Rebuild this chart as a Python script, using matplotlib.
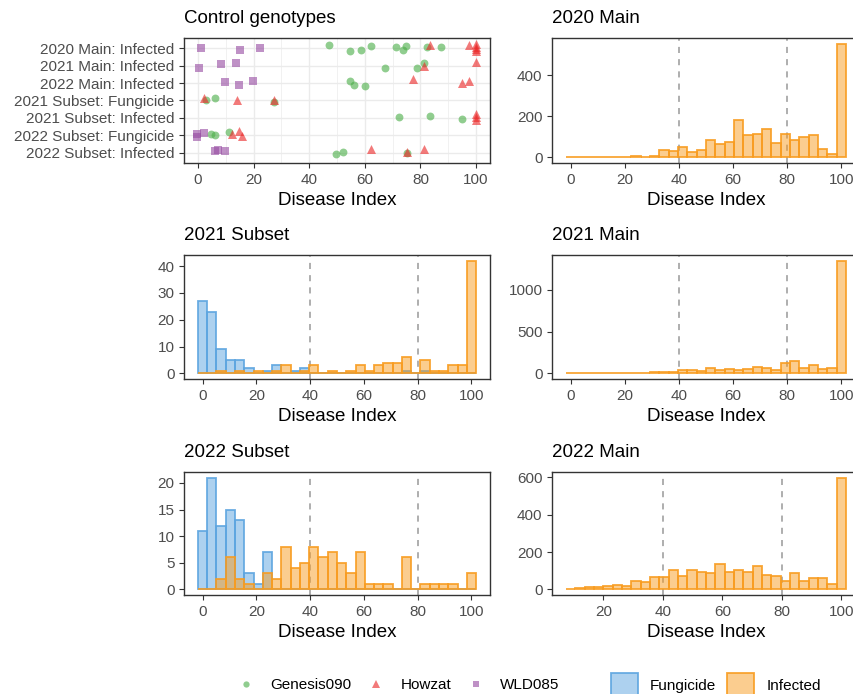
import numpy as np
import matplotlib
matplotlib.use("Agg")
import matplotlib.pyplot as plt
from matplotlib.lines import Line2D
from matplotlib.patches import Patch

plt.rcParams["font.family"] = ["Liberation Sans", "DejaVu Sans"]

W, H = 854, 694

# ---- control genotypes (jittered points) ----
categories = [
    "2020 Main: Infected",
    "2021 Main: Infected",
    "2022 Main: Infected",
    "2021 Subset: Fungicide",
    "2021 Subset: Infected",
    "2022 Subset: Fungicide",
    "2022 Subset: Infected",
]
genotypes = ["Genesis090", "Howzat", "WLD085"]

genesis_x = [47.3, 54.8, 58.6, 62.2, 71.1, 73.6, 74.9, 82.2, 87.5,
             67.4, 78.6, 81.1,
             54.8, 56.2, 59.9,
             2.8, 6.0, 27.3,
             72.3, 83.6, 95.0,
             4.8, 6.0, 11.1,
             49.8, 52.1, 75.0]
genesis_cat = [0] * 9 + [1] * 3 + [2] * 3 + [3] * 3 + [4] * 3 + [5] * 3 + [6] * 3
genesis_jit = [-0.17, 0.17, 0.12, -0.12, -0.08, 0.12, -0.12, -0.08, -0.06,
               0.12, 0.10, -0.15,
               -0.15, 0.13, 0.19,
               0.0, -0.17, 0.10,
               -0.06, -0.12, 0.06,
               -0.08, -0.04, -0.19,
               0.11, -0.04, 0.02]

howzat_x = [83.6, 97.3, 100, 100, 100, 100,
            81.2, 100,
            77.4, 95.0, 97.5,
            2.3, 14.1, 27.3,
            100, 100, 100,
            12.3, 14.7, 16.0,
            62.3, 75.0, 81.2]
howzat_cat = [0] * 6 + [1] * 2 + [2] * 3 + [3] * 3 + [4] * 3 + [5] * 3 + [6] * 3
howzat_jit = [-0.21, -0.21, -0.25, -0.10, 0.02, 0.13,
              0.0, -0.20,
              -0.21, 0.02, -0.15,
              -0.17, 0.0, 0.0,
              -0.21, -0.06, 0.12,
              -0.08, -0.23, 0.04,
              -0.21, -0.04, -0.23]

wld_x = [1.1, 15.3, 22.5,
         0.4, 8.4, 13.7,
         9.7, 14.8, 19.9,
         -0.4, -0.4, 2.2,
         6.1, 7.2, 9.7]
wld_cat = [0] * 3 + [1] * 3 + [2] * 3 + [5] * 3 + [6] * 3
wld_jit = [-0.04, 0.08, -0.04,
           0.12, -0.13, -0.17,
           -0.06, 0.12, -0.12,
           0.08, -0.08, -0.12,
           -0.08, -0.14, -0.08]

# ---- histogram counts (30 bins each) ----
bins_0_100 = np.linspace(0, 100, 30)
bins_9_100 = np.linspace(9, 100, 30)

main2020_inf = [3, 1, 2, 2, 2, 2, 1, 8, 3, 6, 38, 30, 51, 26, 34, 85, 64, 74,
                182, 108, 115, 136, 72, 112, 84, 100, 108, 39, 18, 554]
main2021_inf = [6, 2, 4, 4, 4, 5, 6, 8, 8, 12, 16, 20, 40, 36, 32, 68, 36, 56,
                36, 56, 72, 64, 36, 128, 152, 68, 100, 52, 64, 1352]
main2022_inf = [3, 7, 12, 12, 18, 25, 18, 44, 41, 65, 64, 102, 74, 102, 95, 88,
                134, 95, 106, 92, 124, 79, 72, 46, 90, 44, 62, 62, 30, 598]
sub2021_fung = [27, 23, 9, 5, 5, 2, 0, 1, 3, 0, 1, 2, 0, 0, 0, 0, 0, 0,
                0, 0, 0, 0, 1, 0, 1, 0, 0, 0, 0, 0]
sub2021_inf = [0, 0, 1, 0, 1, 0, 1, 0, 1, 3, 0, 1, 3, 0, 1, 0, 1, 3,
               1, 3, 4, 4, 6, 0, 5, 1, 1, 3, 3, 42]
sub2022_fung = [11, 21, 12, 15, 13, 3, 1, 7, 0, 0, 0, 0, 0, 0, 0, 0, 0, 0,
                0, 0, 0, 0, 0, 0, 0, 0, 0, 0, 0, 0]
sub2022_inf = [0, 0, 2, 6, 2, 1, 0, 3, 2, 8, 4, 5, 8, 6, 7, 5, 3, 7,
               1, 1, 1, 0, 6, 0, 1, 1, 1, 1, 0, 3]

geno_colors = {"Genesis090": "#4DAF4A", "Howzat": "#EB2828", "WLD085": "#984EA3"}
geno_markers = {"Genesis090": "o", "Howzat": "^", "WLD085": "s"}
treat_edge = {"Fungicide": "#5DA5E0", "Infected": "#F89C20"}

TICK_FS = 11
TITLE_FS = 13.5
TXT = "#4d4d4d"
DARK = "#333333"


def add_ax(l, t, r, b):
    return fig.add_axes([l / W, 1 - b / H, (r - l) / W, (b - t) / H])


def style(ax, title):
    ax.set_title(title, loc="left", fontsize=TITLE_FS, pad=10.5)
    ax.set_xlabel("Disease Index", fontsize=TITLE_FS, labelpad=4)
    ax.tick_params(labelsize=TICK_FS, colors=DARK, labelcolor=TXT,
                   length=3.4, width=0.8, pad=3.5)
    for s in ax.spines.values():
        s.set_color(DARK)
        s.set_linewidth(1.0)


def hist_panel(ax, centers, series, title, xticks, yticks):
    bw = centers[1] - centers[0]
    for counts, treat in series:
        ec = matplotlib.colors.to_rgba(treat_edge[treat], 0.9)
        fc = matplotlib.colors.to_rgba(treat_edge[treat], 0.5)
        ax.bar(centers, counts, width=bw, facecolor=fc, edgecolor=ec,
               linewidth=1.3, zorder=2)
    for v in (40, 80):
        ax.axvline(v, color="#999999", ls=(0, (4, 4)), lw=1.1, zorder=1)
    ax.set_xticks(xticks)
    ax.set_yticks(yticks)
    lo, hi = centers[0] - bw / 2, centers[-1] + bw / 2
    ax.set_xlim(lo - 0.05 * (hi - lo), hi + 0.05 * (hi - lo))
    top = max(max(c) for c, _ in series)
    ax.set_ylim(-0.05 * top, 1.05 * top)
    style(ax, title)


fig = plt.figure(figsize=(W / 100, H / 100), dpi=100)

rows = [(38, 163), (255, 379), (472, 595)]
lcol = (184, 490)
rcol = (552, 860)
ticks100 = [0, 20, 40, 60, 80, 100]

# control genotypes
ax = add_ax(lcol[0], rows[0][0], lcol[1], rows[0][1])
ax.set_xticks(ticks100)
ax.set_xticks([10, 30, 50, 70, 90], minor=True)
ax.set_yticks(range(len(categories)))
ax.set_yticklabels(categories)
ax.set_xlim(-5, 105)
ax.set_ylim(6.6, -0.6)
ax.grid(True, which="major", color="#ebebeb", lw=1.0, zorder=0)
ax.grid(True, which="minor", axis="x", color="#ebebeb", lw=0.5, zorder=0)
ax.tick_params(which="minor", length=0)
ax.set_axisbelow(True)
for name, xs, cats, jit in [("Genesis090", genesis_x, genesis_cat, genesis_jit),
                            ("Howzat", howzat_x, howzat_cat, howzat_jit),
                            ("WLD085", wld_x, wld_cat, wld_jit)]:
    ys = np.array(cats) + np.array(jit)
    ax.scatter(xs, ys, marker=geno_markers[name], c=geno_colors[name],
               alpha=0.62, s=42 if name == "Howzat" else 32, linewidths=0,
               zorder=3)
style(ax, "Control genotypes")

ax = add_ax(rcol[0], rows[0][0], rcol[1], rows[0][1])
hist_panel(ax, bins_0_100, [(main2020_inf, "Infected")], "2020 Main",
           ticks100, [0, 200, 400])

ax = add_ax(lcol[0], rows[1][0], lcol[1], rows[1][1])
hist_panel(ax, bins_0_100, [(sub2021_fung, "Fungicide"), (sub2021_inf, "Infected")],
           "2021 Subset", ticks100, [0, 10, 20, 30, 40])

ax = add_ax(rcol[0], rows[1][0], rcol[1], rows[1][1])
hist_panel(ax, bins_0_100, [(main2021_inf, "Infected")], "2021 Main",
           ticks100, [0, 500, 1000])

ax = add_ax(lcol[0], rows[2][0], lcol[1], rows[2][1])
hist_panel(ax, bins_0_100, [(sub2022_fung, "Fungicide"), (sub2022_inf, "Infected")],
           "2022 Subset", ticks100, [0, 5, 10, 15, 20])

ax = add_ax(rcol[0], rows[2][0], rcol[1], rows[2][1])
hist_panel(ax, bins_9_100, [(main2022_inf, "Infected")], "2022 Main",
           [20, 40, 60, 80, 100], [0, 200, 400, 600])

# legends
geno_handles = [Line2D([], [], ls="", marker=geno_markers[g], color=geno_colors[g],
                       alpha=0.62, markersize=5.5 if g == "Howzat" else 4.5,
                       markeredgewidth=0) for g in genotypes]
fig.legend(geno_handles, genotypes, loc="center", ncol=3, frameon=False,
           bbox_to_anchor=(399 / W, 1 - 685 / H), fontsize=TICK_FS,
           handlelength=1.0, handletextpad=1.1, columnspacing=1.1)

treat_handles = [Patch(facecolor=matplotlib.colors.to_rgba(treat_edge[t], 0.5),
                       edgecolor=matplotlib.colors.to_rgba(treat_edge[t], 0.9),
                       linewidth=1.3) for t in ["Fungicide", "Infected"]]
fig.legend(treat_handles, ["Fungicide", "Infected"], loc="center", ncol=2,
           frameon=False, bbox_to_anchor=(716 / W, 1 - 685 / H), fontsize=TICK_FS,
           handlelength=1.76, handleheight=1.96, handletextpad=0.78,
           columnspacing=0.72)

fig.savefig("out.png", dpi=100)
